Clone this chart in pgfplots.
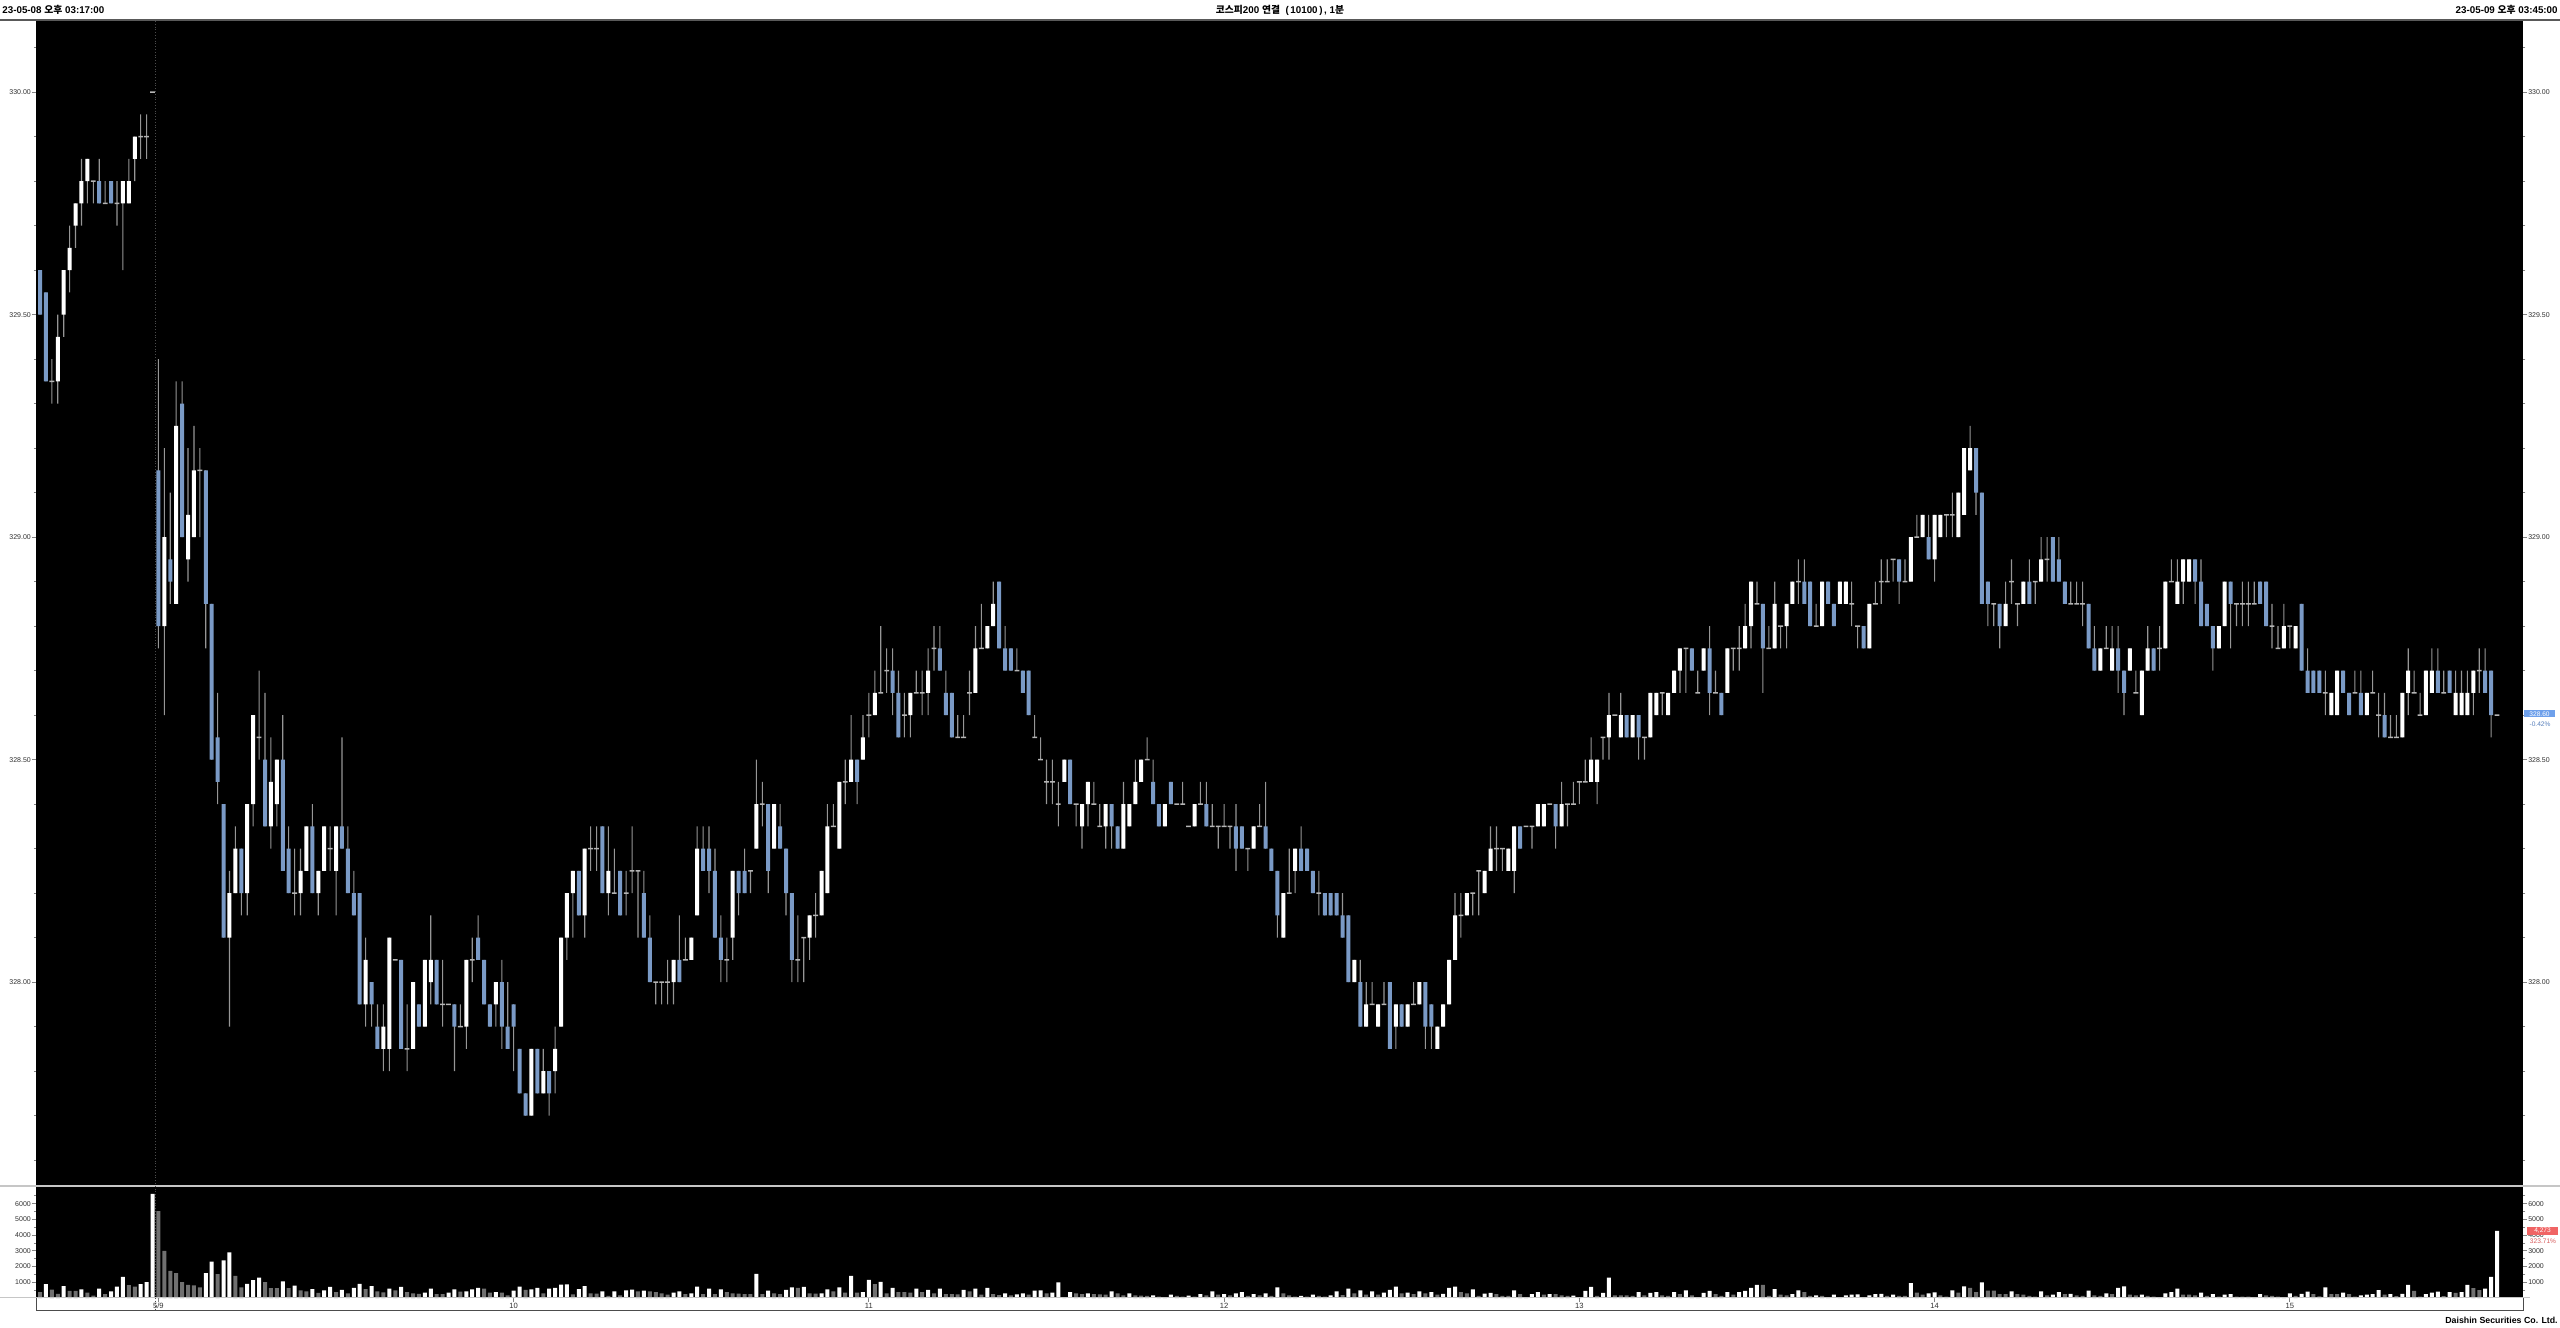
\documentclass[border=0pt]{standalone}
\usepackage{pgfplots}
\pgfplotsset{compat=1.18}
\usepackage{pgfplotstable}
\usepackage{fontspec}
\setmainfont{Liberation Sans}
\newfontfamily\kr{Noto Sans CJK KR}
\definecolor{downc}{RGB}{122,154,198}
\definecolor{wickc}{RGB}{150,150,150}
\definecolor{volg}{RGB}{112,112,112}
\definecolor{lblc}{RGB}{50,50,50}
\definecolor{tagblue}{RGB}{110,160,235}
\definecolor{tagred}{RGB}{240,100,100}

\pgfplotstableread{
i O H L C
0 329.60 329.60 329.50 329.50
1 329.55 329.55 329.35 329.35
2 329.35 329.40 329.30 329.35
3 329.35 329.50 329.30 329.45
4 329.50 329.60 329.45 329.60
5 329.60 329.70 329.55 329.65
6 329.70 329.75 329.65 329.75
7 329.75 329.85 329.70 329.80
8 329.80 329.85 329.75 329.85
9 329.80 329.80 329.75 329.80
10 329.80 329.85 329.75 329.75
11 329.75 329.80 329.75 329.75
12 329.80 329.80 329.75 329.75
13 329.75 329.80 329.70 329.75
14 329.75 329.80 329.60 329.80
15 329.75 329.85 329.75 329.80
16 329.85 329.90 329.80 329.90
17 329.90 329.95 329.85 329.90
18 329.90 329.95 329.85 329.90
19 330.00 330.00 330.00 330.00
20 329.15 329.40 328.75 328.80
21 328.80 329.20 328.60 329.00
22 328.95 329.10 328.85 328.90
23 328.85 329.35 328.85 329.25
24 329.30 329.35 329.00 329.00
25 328.95 329.20 328.90 329.05
26 329.00 329.25 329.00 329.15
27 329.15 329.20 329.00 329.15
28 329.15 329.15 328.75 328.85
29 328.85 328.85 328.50 328.50
30 328.55 328.65 328.40 328.45
31 328.40 328.40 328.10 328.10
32 328.10 328.25 327.90 328.20
33 328.20 328.35 328.20 328.30
34 328.30 328.30 328.15 328.20
35 328.20 328.40 328.15 328.40
36 328.40 328.60 328.35 328.60
37 328.55 328.70 328.50 328.55
38 328.50 328.65 328.35 328.35
39 328.35 328.55 328.30 328.45
40 328.40 328.50 328.35 328.50
41 328.50 328.60 328.25 328.25
42 328.30 328.35 328.20 328.20
43 328.20 328.30 328.15 328.20
44 328.20 328.30 328.15 328.25
45 328.25 328.35 328.25 328.35
46 328.35 328.40 328.20 328.20
47 328.20 328.25 328.15 328.25
48 328.25 328.35 328.25 328.35
49 328.30 328.35 328.25 328.30
50 328.25 328.35 328.15 328.35
51 328.35 328.55 328.30 328.30
52 328.30 328.35 328.20 328.20
53 328.20 328.25 328.15 328.15
54 328.20 328.20 327.95 327.95
55 327.95 328.10 327.90 328.05
56 328.00 328.00 327.90 327.95
57 327.90 327.95 327.85 327.85
58 327.85 327.95 327.80 327.90
59 327.85 328.10 327.80 328.10
60 328.05 328.05 328.05 328.05
61 328.05 328.05 327.85 327.85
62 327.85 327.95 327.80 327.85
63 327.85 328.00 327.85 328.00
64 327.95 327.95 327.90 327.90
65 327.90 328.05 327.90 328.05
66 328.00 328.15 327.95 328.05
67 328.05 328.05 327.95 327.95
68 327.95 328.05 327.90 327.95
69 327.95 327.95 327.95 327.95
70 327.95 327.95 327.80 327.90
71 327.90 327.95 327.90 327.90
72 327.90 328.05 327.85 328.05
73 328.05 328.10 328.00 328.05
74 328.10 328.15 328.05 328.05
75 328.05 328.05 327.95 327.95
76 327.95 327.95 327.90 327.90
77 327.95 328.00 327.90 328.00
78 328.00 328.05 327.85 327.90
79 327.90 328.00 327.85 327.85
80 327.95 327.95 327.80 327.90
81 327.85 327.85 327.75 327.75
82 327.75 327.75 327.70 327.70
83 327.70 327.85 327.70 327.85
84 327.85 327.85 327.75 327.75
85 327.75 327.85 327.75 327.80
86 327.80 327.80 327.70 327.75
87 327.80 327.90 327.75 327.85
88 327.90 328.10 327.90 328.10
89 328.10 328.20 328.05 328.20
90 328.20 328.25 328.10 328.25
91 328.25 328.25 328.15 328.15
92 328.15 328.30 328.10 328.30
93 328.30 328.35 328.25 328.30
94 328.30 328.35 328.25 328.30
95 328.35 328.35 328.20 328.20
96 328.20 328.35 328.15 328.25
97 328.20 328.30 328.20 328.20
98 328.25 328.25 328.15 328.15
99 328.20 328.25 328.15 328.20
100 328.25 328.35 328.20 328.25
101 328.25 328.25 328.10 328.25
102 328.20 328.25 328.10 328.10
103 328.10 328.15 328.00 328.00
104 328.00 328.00 327.95 328.00
105 328.00 328.00 327.95 328.00
106 328.00 328.05 327.95 328.00
107 328.00 328.05 327.95 328.05
108 328.05 328.15 328.00 328.00
109 328.05 328.10 328.05 328.05
110 328.05 328.10 328.05 328.10
111 328.15 328.35 328.15 328.30
112 328.30 328.35 328.25 328.25
113 328.30 328.35 328.20 328.25
114 328.25 328.30 328.10 328.10
115 328.10 328.15 328.00 328.05
116 328.05 328.10 328.00 328.05
117 328.10 328.25 328.05 328.25
118 328.25 328.25 328.15 328.20
119 328.25 328.30 328.20 328.20
120 328.25 328.25 328.20 328.25
121 328.30 328.50 328.30 328.40
122 328.40 328.45 328.35 328.40
123 328.40 328.40 328.20 328.25
124 328.30 328.40 328.30 328.40
125 328.35 328.40 328.30 328.30
126 328.30 328.30 328.15 328.20
127 328.20 328.20 328.00 328.05
128 328.05 328.15 328.00 328.05
129 328.10 328.10 328.00 328.10
130 328.10 328.15 328.05 328.15
131 328.15 328.20 328.10 328.15
132 328.15 328.25 328.15 328.25
133 328.20 328.40 328.20 328.35
134 328.35 328.40 328.35 328.35
135 328.30 328.45 328.30 328.45
136 328.45 328.50 328.40 328.45
137 328.45 328.60 328.45 328.50
138 328.50 328.50 328.40 328.45
139 328.50 328.60 328.50 328.55
140 328.60 328.65 328.55 328.60
141 328.60 328.70 328.60 328.65
142 328.65 328.80 328.65 328.65
143 328.70 328.75 328.65 328.70
144 328.70 328.75 328.60 328.65
145 328.65 328.70 328.55 328.55
146 328.60 328.65 328.55 328.60
147 328.60 328.65 328.55 328.65
148 328.65 328.70 328.65 328.65
149 328.65 328.70 328.60 328.65
150 328.65 328.75 328.60 328.70
151 328.75 328.80 328.70 328.75
152 328.75 328.80 328.70 328.70
153 328.65 328.70 328.60 328.60
154 328.65 328.65 328.55 328.55
155 328.55 328.60 328.55 328.55
156 328.55 328.60 328.55 328.55
157 328.65 328.70 328.60 328.65
158 328.65 328.80 328.65 328.75
159 328.75 328.85 328.75 328.75
160 328.75 328.80 328.75 328.80
161 328.80 328.90 328.80 328.85
162 328.90 328.90 328.75 328.75
163 328.75 328.80 328.70 328.70
164 328.75 328.75 328.70 328.70
165 328.70 328.75 328.70 328.70
166 328.70 328.70 328.65 328.65
167 328.70 328.70 328.60 328.60
168 328.55 328.60 328.55 328.55
169 328.50 328.55 328.50 328.50
170 328.45 328.50 328.40 328.45
171 328.45 328.50 328.40 328.45
172 328.40 328.45 328.35 328.40
173 328.45 328.50 328.45 328.50
174 328.50 328.50 328.40 328.40
175 328.40 328.40 328.35 328.40
176 328.35 328.40 328.30 328.40
177 328.40 328.45 328.35 328.45
178 328.40 328.45 328.40 328.40
179 328.35 328.40 328.35 328.35
180 328.35 328.40 328.30 328.40
181 328.40 328.40 328.30 328.35
182 328.35 328.35 328.30 328.30
183 328.30 328.45 328.30 328.40
184 328.35 328.40 328.35 328.40
185 328.40 328.50 328.40 328.45
186 328.45 328.50 328.45 328.50
187 328.50 328.55 328.50 328.50
188 328.45 328.50 328.40 328.40
189 328.40 328.40 328.35 328.35
190 328.35 328.40 328.35 328.40
191 328.45 328.45 328.40 328.40
192 328.40 328.40 328.40 328.40
193 328.40 328.45 328.40 328.40
194 328.35 328.35 328.35 328.35
195 328.35 328.40 328.35 328.40
196 328.40 328.45 328.40 328.40
197 328.40 328.45 328.35 328.35
198 328.35 328.40 328.35 328.35
199 328.35 328.35 328.30 328.35
200 328.35 328.40 328.35 328.35
201 328.35 328.35 328.30 328.35
202 328.35 328.40 328.25 328.30
203 328.35 328.35 328.30 328.30
204 328.30 328.30 328.25 328.30
205 328.30 328.35 328.30 328.35
206 328.35 328.40 328.35 328.35
207 328.35 328.45 328.30 328.30
208 328.30 328.30 328.25 328.25
209 328.25 328.25 328.10 328.15
210 328.10 328.20 328.10 328.20
211 328.20 328.30 328.20 328.20
212 328.25 328.30 328.20 328.30
213 328.30 328.35 328.25 328.25
214 328.30 328.30 328.25 328.25
215 328.25 328.25 328.20 328.20
216 328.20 328.25 328.15 328.20
217 328.20 328.20 328.15 328.15
218 328.20 328.20 328.15 328.15
219 328.20 328.20 328.15 328.15
220 328.15 328.20 328.10 328.10
221 328.15 328.15 328.00 328.00
222 328.00 328.05 328.00 328.05
223 328.00 328.05 327.90 327.90
224 327.90 328.00 327.90 327.95
225 327.95 328.00 327.95 327.95
226 327.90 327.95 327.90 327.95
227 327.95 328.00 327.95 327.95
228 328.00 328.00 327.85 327.85
229 327.90 327.95 327.85 327.95
230 327.95 327.95 327.90 327.90
231 327.90 327.95 327.90 327.95
232 327.95 328.00 327.95 327.95
233 327.95 328.00 327.95 328.00
234 328.00 328.00 327.85 327.90
235 327.95 327.95 327.85 327.90
236 327.85 327.90 327.85 327.90
237 327.90 327.95 327.90 327.95
238 327.95 328.05 327.95 328.05
239 328.05 328.20 328.05 328.15
240 328.15 328.20 328.10 328.15
241 328.15 328.20 328.15 328.20
242 328.20 328.20 328.15 328.20
243 328.25 328.25 328.15 328.25
244 328.20 328.25 328.20 328.25
245 328.25 328.35 328.25 328.30
246 328.30 328.35 328.25 328.30
247 328.30 328.30 328.25 328.30
248 328.25 328.30 328.25 328.30
249 328.25 328.35 328.20 328.35
250 328.35 328.35 328.30 328.30
251 328.35 328.35 328.35 328.35
252 328.35 328.35 328.30 328.35
253 328.35 328.40 328.35 328.40
254 328.35 328.40 328.35 328.40
255 328.40 328.40 328.40 328.40
256 328.40 328.40 328.30 328.35
257 328.35 328.45 328.35 328.40
258 328.40 328.40 328.35 328.40
259 328.40 328.45 328.40 328.40
260 328.45 328.45 328.40 328.45
261 328.45 328.50 328.45 328.45
262 328.45 328.55 328.45 328.50
263 328.45 328.50 328.40 328.50
264 328.55 328.55 328.50 328.55
265 328.55 328.65 328.50 328.60
266 328.60 328.60 328.60 328.60
267 328.55 328.65 328.55 328.60
268 328.60 328.60 328.55 328.55
269 328.55 328.60 328.55 328.60
270 328.60 328.60 328.50 328.55
271 328.55 328.55 328.50 328.55
272 328.55 328.65 328.55 328.65
273 328.60 328.65 328.60 328.65
274 328.65 328.65 328.60 328.65
275 328.60 328.65 328.60 328.65
276 328.65 328.70 328.65 328.70
277 328.70 328.75 328.65 328.75
278 328.75 328.75 328.65 328.75
279 328.75 328.75 328.70 328.70
280 328.65 328.70 328.65 328.65
281 328.70 328.75 328.70 328.75
282 328.75 328.80 328.60 328.65
283 328.65 328.70 328.65 328.65
284 328.65 328.65 328.60 328.60
285 328.65 328.75 328.65 328.75
286 328.75 328.75 328.70 328.75
287 328.75 328.80 328.70 328.75
288 328.75 328.85 328.75 328.80
289 328.80 328.90 328.75 328.90
290 328.85 328.90 328.85 328.85
291 328.85 328.85 328.65 328.75
292 328.75 328.80 328.75 328.75
293 328.75 328.90 328.75 328.85
294 328.80 328.80 328.75 328.80
295 328.80 328.85 328.75 328.85
296 328.85 328.90 328.85 328.90
297 328.90 328.95 328.85 328.90
298 328.90 328.95 328.85 328.85
299 328.90 328.90 328.80 328.80
300 328.80 328.85 328.80 328.80
301 328.80 328.90 328.80 328.90
302 328.90 328.90 328.85 328.85
303 328.85 328.85 328.80 328.80
304 328.85 328.90 328.85 328.90
305 328.85 328.90 328.85 328.90
306 328.85 328.90 328.80 328.85
307 328.80 328.80 328.75 328.80
308 328.80 328.80 328.75 328.75
309 328.75 328.85 328.75 328.85
310 328.85 328.90 328.85 328.85
311 328.90 328.95 328.85 328.90
312 328.90 328.95 328.90 328.90
313 328.95 328.95 328.90 328.95
314 328.95 328.95 328.85 328.90
315 328.90 328.95 328.90 328.90
316 328.90 329.00 328.90 329.00
317 329.00 329.05 329.00 329.00
318 329.00 329.05 329.00 329.05
319 329.00 329.05 328.95 328.95
320 328.95 329.05 328.90 329.05
321 329.00 329.05 329.00 329.05
322 329.05 329.05 329.00 329.05
323 329.05 329.10 329.00 329.05
324 329.00 329.10 329.00 329.10
325 329.05 329.20 329.05 329.20
326 329.15 329.25 329.15 329.20
327 329.20 329.20 329.05 329.10
328 329.10 329.10 328.85 328.85
329 328.90 328.90 328.80 328.85
330 328.85 328.85 328.80 328.85
331 328.85 328.85 328.75 328.80
332 328.80 328.90 328.80 328.85
333 328.90 328.95 328.85 328.90
334 328.85 328.85 328.80 328.85
335 328.85 328.90 328.85 328.90
336 328.90 328.95 328.85 328.85
337 328.90 328.90 328.85 328.90
338 328.90 329.00 328.90 328.95
339 328.95 329.00 328.90 328.95
340 329.00 329.00 328.90 328.90
341 328.95 329.00 328.90 328.90
342 328.90 328.90 328.85 328.85
343 328.85 328.90 328.85 328.85
344 328.85 328.90 328.85 328.85
345 328.85 328.90 328.80 328.85
346 328.85 328.85 328.75 328.75
347 328.75 328.80 328.70 328.70
348 328.70 328.75 328.70 328.75
349 328.75 328.80 328.75 328.75
350 328.70 328.80 328.70 328.75
351 328.75 328.80 328.65 328.70
352 328.70 328.70 328.60 328.65
353 328.70 328.75 328.70 328.75
354 328.65 328.70 328.65 328.65
355 328.60 328.70 328.60 328.70
356 328.70 328.80 328.70 328.75
357 328.75 328.75 328.70 328.70
358 328.75 328.80 328.70 328.75
359 328.75 328.90 328.75 328.90
360 328.90 328.95 328.90 328.90
361 328.85 328.95 328.85 328.90
362 328.90 328.95 328.85 328.95
363 328.90 328.95 328.90 328.95
364 328.95 328.95 328.85 328.90
365 328.90 328.95 328.80 328.80
366 328.85 328.85 328.80 328.80
367 328.80 328.80 328.70 328.75
368 328.75 328.80 328.75 328.80
369 328.80 328.90 328.80 328.90
370 328.90 328.90 328.75 328.85
371 328.85 328.85 328.80 328.85
372 328.85 328.90 328.80 328.85
373 328.85 328.90 328.80 328.85
374 328.85 328.90 328.85 328.85
375 328.90 328.90 328.85 328.85
376 328.90 328.90 328.80 328.80
377 328.80 328.85 328.75 328.80
378 328.75 328.80 328.75 328.75
379 328.75 328.85 328.75 328.80
380 328.80 328.80 328.75 328.80
381 328.75 328.80 328.75 328.80
382 328.85 328.85 328.70 328.70
383 328.70 328.75 328.65 328.65
384 328.70 328.70 328.65 328.65
385 328.70 328.70 328.65 328.65
386 328.65 328.70 328.60 328.65
387 328.60 328.65 328.60 328.65
388 328.60 328.70 328.60 328.70
389 328.70 328.70 328.65 328.65
390 328.65 328.65 328.60 328.60
391 328.65 328.70 328.65 328.65
392 328.65 328.70 328.60 328.60
393 328.60 328.65 328.60 328.65
394 328.65 328.70 328.65 328.65
395 328.60 328.65 328.55 328.60
396 328.60 328.65 328.55 328.55
397 328.55 328.60 328.55 328.55
398 328.55 328.60 328.55 328.55
399 328.55 328.65 328.55 328.65
400 328.65 328.75 328.60 328.70
401 328.65 328.70 328.65 328.65
402 328.60 328.65 328.60 328.60
403 328.60 328.70 328.60 328.70
404 328.65 328.75 328.65 328.70
405 328.70 328.75 328.65 328.65
406 328.65 328.70 328.65 328.65
407 328.70 328.70 328.65 328.65
408 328.60 328.70 328.60 328.65
409 328.60 328.70 328.60 328.65
410 328.60 328.70 328.60 328.65
411 328.65 328.70 328.60 328.70
412 328.70 328.75 328.65 328.70
413 328.70 328.75 328.65 328.65
414 328.70 328.70 328.55 328.60
415 328.60 328.60 328.60 328.60
}\ohlc

\pgfplotstableread{
i V U
0 380 0
1 880 1
2 530 0
3 270 0
4 760 1
5 460 0
6 460 0
7 550 1
8 340 0
9 150 0
10 590 1
11 250 0
12 420 1
13 720 1
14 1350 1
15 820 0
16 720 0
17 880 1
18 1010 1
19 6630 1
20 5520 0
21 2990 0
22 1730 0
23 1580 0
24 1010 0
25 840 0
26 800 0
27 670 0
28 1580 1
29 2320 1
30 1520 0
31 2400 1
32 2900 1
33 1410 0
34 670 0
35 900 1
36 1140 1
37 1300 1
38 1010 0
39 630 0
40 630 0
41 1050 1
42 630 0
43 780 1
44 480 0
45 420 0
46 560 1
47 330 0
48 480 1
49 700 1
50 380 0
51 520 1
52 300 0
53 640 1
54 900 1
55 560 0
56 760 1
57 420 0
58 350 0
59 600 1
60 480 0
61 700 1
62 380 0
63 300 0
64 260 0
65 340 1
66 590 1
67 250 0
68 250 0
69 340 1
70 550 1
71 400 0
72 420 1
73 550 1
74 640 1
75 590 0
76 340 0
77 380 1
78 340 0
79 170 0
80 470 1
81 720 1
82 510 0
83 550 1
84 640 1
85 300 0
86 590 1
87 640 1
88 850 1
89 870 1
90 230 0
91 570 1
92 760 1
93 300 0
94 280 0
95 420 1
96 130 0
97 420 1
98 170 0
99 490 1
100 530 1
101 420 0
102 470 1
103 420 0
104 380 0
105 300 0
106 210 0
107 340 1
108 420 1
109 250 0
110 300 1
111 720 1
112 250 0
113 590 1
114 250 0
115 550 1
116 380 0
117 300 0
118 280 0
119 250 0
120 250 0
121 1530 1
122 250 0
123 470 1
124 300 0
125 250 0
126 510 1
127 680 1
128 640 0
129 700 1
130 300 0
131 280 0
132 300 1
133 550 1
134 420 0
135 680 1
136 340 0
137 1400 1
138 340 0
139 380 1
140 1150 1
141 890 0
142 1020 1
143 300 0
144 640 1
145 380 0
146 380 0
147 340 0
148 590 1
149 380 0
150 510 1
151 300 0
152 590 1
153 250 0
154 250 0
155 230 0
156 510 1
157 420 0
158 590 1
159 210 0
160 640 1
161 250 0
162 190 0
163 300 1
164 170 0
165 230 1
166 300 1
167 210 0
168 470 1
169 490 1
170 300 0
171 340 1
172 1000 1
173 40 0
174 380 1
175 300 0
176 250 0
177 300 1
178 250 0
179 230 0
180 210 0
181 420 1
182 300 0
183 170 0
184 300 1
185 170 0
186 150 0
187 130 0
188 170 1
189 85 0
190 60 0
191 210 1
192 130 0
193 85 0
194 150 1
195 85 0
196 250 1
197 170 0
198 420 1
199 210 0
200 250 1
201 170 0
202 300 1
203 380 1
204 130 0
205 250 1
206 170 0
207 300 1
208 130 0
209 680 1
210 300 0
211 170 0
212 85 0
213 130 1
214 85 0
215 210 1
216 130 0
217 85 0
218 170 1
219 420 1
220 190 0
221 590 1
222 300 0
223 490 1
224 210 0
225 420 1
226 210 0
227 340 1
228 510 1
229 720 1
230 300 0
231 340 1
232 250 0
233 420 1
234 300 0
235 380 1
236 210 0
237 260 1
238 640 1
239 720 1
240 380 0
241 300 0
242 550 1
243 130 0
244 280 1
245 320 1
246 250 0
247 130 0
248 130 0
249 490 1
250 250 0
251 40 0
252 250 1
253 380 1
254 210 0
255 250 1
256 250 0
257 170 0
258 130 0
259 150 1
260 60 0
261 450 1
262 700 1
263 130 0
264 320 1
265 1290 1
266 170 0
267 170 0
268 170 0
269 130 0
270 380 1
271 170 0
272 320 1
273 380 1
274 170 0
275 130 0
276 380 1
277 250 0
278 490 1
279 170 0
280 40 0
281 320 1
282 450 1
283 250 0
284 130 0
285 380 1
286 210 0
287 380 1
288 450 1
289 640 1
290 830 1
291 830 0
292 130 0
293 570 1
294 210 0
295 170 0
296 250 1
297 490 1
298 380 0
299 130 0
300 170 1
301 130 0
302 40 0
303 210 1
304 40 0
305 170 1
306 210 1
307 230 1
308 40 0
309 170 1
310 250 1
311 260 1
312 130 0
313 210 1
314 130 0
315 130 0
316 950 1
317 340 0
318 210 0
319 300 1
320 360 1
321 170 0
322 85 0
323 490 1
324 340 0
325 740 1
326 640 0
327 380 0
328 1000 1
329 470 0
330 470 0
331 250 0
332 250 0
333 420 1
334 250 0
335 210 0
336 130 0
337 85 0
338 420 1
339 170 0
340 210 1
341 380 1
342 250 0
343 260 1
344 170 0
345 130 0
346 470 1
347 170 0
348 130 0
349 300 1
350 250 0
351 640 1
352 740 1
353 210 0
354 170 0
355 210 1
356 130 0
357 85 0
358 20 0
359 300 1
360 380 1
361 590 1
362 210 0
363 210 0
364 170 0
365 340 1
366 130 0
367 250 1
368 85 0
369 210 1
370 250 1
371 85 0
372 85 0
373 80 0
374 60 0
375 250 1
376 170 0
377 130 0
378 85 0
379 60 0
380 300 1
381 130 0
382 270 1
383 400 1
384 250 0
385 100 0
386 670 1
387 250 0
388 250 0
389 340 1
390 250 0
391 80 0
392 170 1
393 210 1
394 250 1
395 500 1
396 210 0
397 250 1
398 120 0
399 270 1
400 840 1
401 460 0
402 80 0
403 250 1
404 340 1
405 400 1
406 120 0
407 380 1
408 320 0
409 380 1
410 840 1
411 630 0
412 500 0
413 590 1
414 1350 1
415 4273 1
}\vol

\pgfplotsset{
  chartbase/.style={
    scale only axis, width=1243.5pt,
    xmin=-0.68, xmax=419.4,
    axis line style={draw=none},
    tick align=outside,
    major tick length=2pt, minor tick length=1.1pt,
    tick style={draw=lblc!60, line width=0.45pt},
    /pgf/number format/assume math mode=true,
    scaled y ticks=false,
    yticklabel style={font=\fontsize{3.5}{4}\selectfont, text=lblc, inner sep=0.4pt},
  },
  pricetk/.style={
    ymin=0.042, ymax=2.662,
    xtick=\empty,
    ytick={0.5,1,1.5,2,2.5},
    yticklabels={328.00,328.50,329.00,329.50,330.00},
    minor ytick={0.1,0.2,0.3,0.4,0.6,0.7,0.8,0.9,1.1,1.2,1.3,1.4,1.6,1.7,1.8,1.9,2.1,2.2,2.3,2.4,2.6},
  },
  voltk/.style={
    ymin=0, ymax=7125,
    ytick={1000,2000,3000,4000,5000,6000},
    minor ytick={500,1500,2500,3500,4500,5500,6500},
    yticklabel style={/pgf/number format/fixed, /pgf/number format/precision=0, /pgf/number format/1000 sep={}},
  },
}

\begin{document}
\begin{tikzpicture}[x=0.5pt,y=0.5pt]
\fill[white] (0,0) rectangle (2560,1328);
\useasboundingbox (0,0) rectangle (2560,1328);

% ---------- price panel: wicks (stacked bars from low to high) ----------
\begin{axis}[chartbase, pricetk, at={(18pt,71pt)}, anchor=south west, height=583pt,
  axis background/.style={fill=black}, ytick pos=left,
  ybar stacked, bar width=0.55pt]
\addplot[draw=none, fill=none] table[x=i, y expr={\thisrow{L}-327.5}]{\ohlc};
\addplot[draw=none, fill=wickc] table[x=i, y expr={\thisrow{H}-\thisrow{L}}]{\ohlc};
\end{axis}
% ---------- price panel: bodies ----------
\begin{axis}[chartbase, pricetk, at={(18pt,71pt)}, anchor=south west, height=583pt,
  ytick pos=right, yticklabel pos=right,
  ybar stacked, bar width=2pt]
\addplot[draw=none, fill=none] table[x=i, y expr={min(\thisrow{O},\thisrow{C})-327.5-(\thisrow{C}==\thisrow{O})*0.0017}]{\ohlc};
\addplot[draw=none, fill=white] table[x=i, y expr={max(\thisrow{C}-\thisrow{O},0)}]{\ohlc};
\addplot[draw=none, fill=downc] table[x=i, y expr={max(\thisrow{O}-\thisrow{C},0)}]{\ohlc};
\addplot[draw=none, fill=wickc!70!white, bar width=2.4pt] table[x=i, y expr={(\thisrow{C}==\thisrow{O})*0.0034}]{\ohlc};
\end{axis}

% ---------- volume panel ----------
\begin{axis}[chartbase, voltk, at={(18pt,15pt)}, anchor=south west, height=56pt,
  axis background/.style={fill=black}, ytick pos=left,
  xtick={20,80,140,200,260,320,380}, xticklabels={5/9,10,11,12,13,14,15},
  xtick pos=bottom,
  xticklabel style={font=\fontsize{3.8}{4}\selectfont, text=lblc, inner sep=0.3pt},
  ybar stacked, bar width=2pt]
\addplot[draw=none, fill=white] table[x=i, y expr={\thisrow{V}*\thisrow{U}}]{\vol};
\addplot[draw=none, fill=volg] table[x=i, y expr={\thisrow{V}*(1-\thisrow{U})}]{\vol};
\end{axis}
\begin{axis}[chartbase, voltk, at={(18pt,15pt)}, anchor=south west, height=56pt,
  ytick pos=right, yticklabel pos=right, xtick=\empty]
\end{axis}

% ---------- frame lines ----------
\draw[gray!70!black, line width=1pt] (0,1308) -- (2560,1308);
\draw[gray!45, line width=0.7pt] (0,142) -- (2560,142);
\draw[gray!45, line width=0.5pt] (0,30) -- (2530,30);
\draw[gray!60!black, line width=0.5pt] (36,30) -- (36,17) -- (2523,17) -- (2523,30);
\draw[gray!60!black, densely dotted, line width=0.4pt] (155,1307) -- (155,17);

% ---------- header ----------
\node[anchor=west, inner sep=0, font=\fontsize{4.9}{5}\selectfont\bfseries] at (2,1318) {23-05-08 {\kr\bfseries 오후} 03:17:00};
\node[anchor=center, inner sep=0, font=\fontsize{4.9}{5}\selectfont\bfseries] at (1280,1318) {{\kr\bfseries 코스피}200 {\kr\bfseries 연결}\ \ (\,10100\,)\,, 1{\kr\bfseries 분}};
\node[anchor=east, inner sep=0, font=\fontsize{4.9}{5}\selectfont\bfseries] at (2558,1318) {23-05-09 {\kr\bfseries 오후} 03:45:00};

% ---------- tags ----------
\fill[tagblue] (2524,610.5) rectangle (2555,617.5);
\node[inner sep=0, font=\fontsize{3.3}{4}\selectfont, text=white] at (2539.5,614) {328.60};
\node[inner sep=0, font=\fontsize{3.3}{4}\selectfont, text=tagblue!80!black] at (2540,604) {-0.42\%};
\fill[tagred] (2527,93) rectangle (2558,101);
\node[inner sep=0, font=\fontsize{3.3}{4}\selectfont, text=white] at (2542.5,97) {4,273};
\node[inner sep=0, font=\fontsize{3.3}{4}\selectfont, text=tagred!90!black] at (2543,87) {323.71\%};

\node[anchor=east, inner sep=0, font=\fontsize{4.4}{5}\selectfont\bfseries] at (2558,8) {Daishin Securities Co. Ltd.};
\end{tikzpicture}
\end{document}
